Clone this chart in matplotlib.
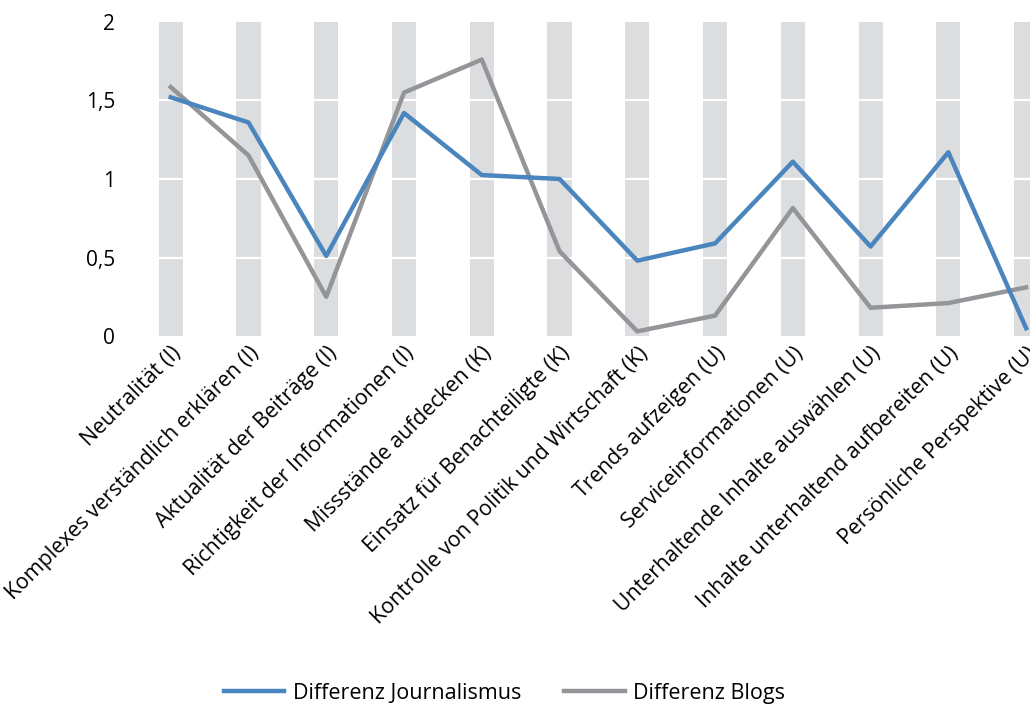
import numpy as np
import matplotlib.pyplot as plt
from matplotlib.ticker import FuncFormatter

plt.rcParams['font.family'] = ['Open Sans', 'DejaVu Sans']

categories = [
    'Neutralität (I)',
    'Komplexes verständlich erklären (I)',
    'Aktualität der Beiträge (I)',
    'Richtigkeit der Informationen (I)',
    'Missstände aufdecken (K)',
    'Einsatz für Benachteiligte (K)',
    'Kontrolle von Politik und Wirtschaft (K)',
    'Trends aufzeigen (U)',
    'Serviceinformationen (U)',
    'Unterhaltende Inhalte auswählen (U)',
    'Inhalte unterhaltend aufbereiten (U)',
    'Persönliche Perspektive (U)',
]
journalismus = [1.52, 1.36, 0.51, 1.42, 1.025, 1.0, 0.48, 0.59, 1.11, 0.57, 1.17, 0.05]
blogs = [1.585, 1.15, 0.25, 1.55, 1.76, 0.54, 0.03, 0.13, 0.815, 0.18, 0.21, 0.31]

blue = '#4a86bd'
grey = '#949598'
band = '#dcdddf'

fig = plt.figure(figsize=(10.3, 7.06), dpi=100)
ax = fig.add_axes([0.128, 0.524, 0.872, 0.445])

x = np.arange(len(categories))

# grey background bands at each category
ax.bar(x, 2, width=0.31, color=band, zorder=1)
for y in [0.5, 1, 1.5]:
    ax.axhline(y, color='white', lw=1.6, zorder=2)

ax.plot(x, journalismus, color=blue, lw=3.2, label='Differenz Journalismus', zorder=4)
ax.plot(x, blogs, color=grey, lw=3.2, label='Differenz Blogs', zorder=3)

ax.set_xlim(-0.5, 11.05)
ax.set_ylim(0, 2)
ax.set_yticks([0, 0.5, 1, 1.5, 2])
ax.yaxis.set_major_formatter(FuncFormatter(lambda v, p: f'{v:g}'.replace('.', ',')))
ax.tick_params(axis='y', length=0, pad=12, labelsize=15)
ax.tick_params(axis='x', length=0, pad=5)
ax.set_xticks(x)
ax.set_xticklabels(categories, rotation=45, ha='right', va='top',
                   rotation_mode='anchor', fontsize=15.3)
for s in ax.spines.values():
    s.set_visible(False)

fig.legend(loc='lower center', bbox_to_anchor=(0.49, -0.024), ncol=2, frameon=False,
           fontsize=15.5, handlelength=2.8, columnspacing=2.0, handletextpad=0.4)

plt.savefig('out.png', dpi=100)
